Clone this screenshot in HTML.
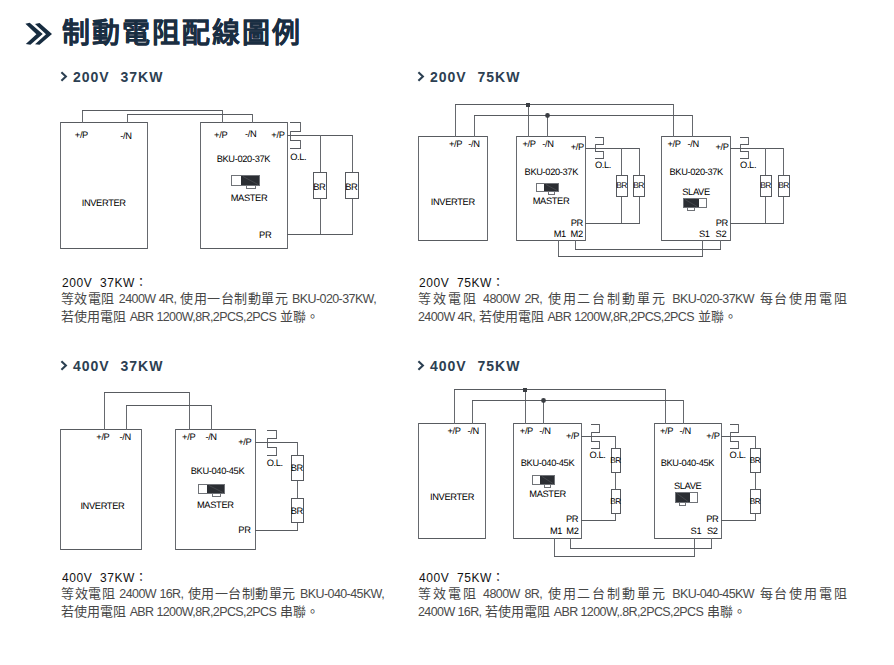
<!DOCTYPE html>
<html lang="zh-TW"><head><meta charset="utf-8"><title>制動電阻配線圖例</title>
<style>
html,body{margin:0;padding:0;background:#fff;}
body{width:894px;height:665px;position:relative;overflow:hidden;font-family:"Liberation Sans",sans-serif;}
.dg{position:absolute;left:0;top:0;}
.lbl text{font-family:"Liberation Sans",sans-serif;fill:#000;letter-spacing:-0.35px;text-rendering:geometricPrecision;}
.h1{position:absolute;left:25px;top:14px;height:40px;}
.h1 svg{position:absolute;left:0;top:9px;}
.h1 span{position:absolute;left:37px;top:0;font-size:28px;letter-spacing:2px;line-height:40px;font-weight:bold;color:#1a2e42;-webkit-text-stroke:0.1px #1a2e42;white-space:nowrap;}
.sub{position:absolute;font-size:14px;font-weight:bold;color:#2c4052;letter-spacing:1px;word-spacing:0.5px;white-space:pre;line-height:16px;}
.sub svg{position:absolute;left:0;top:2px;}
.sub span{position:absolute;left:13px;top:0;}
.p{position:absolute;font-size:13px;line-height:17px;color:#474747;}
.p b{display:block;font-size:12px;color:#111;font-weight:normal;letter-spacing:0.55px;position:relative;top:1px;left:1px;}
.p .l{font-size:12.5px;letter-spacing:-0.6px;color:#4a4a4a;}
.p div{white-space:nowrap;position:relative;top:-1px;}
.p .j{text-align:justify;text-align-last:justify;}
</style></head><body>
<div class="h1"><svg width="34" height="32" viewBox="0 0 34 32" style="left:-3px;top:4px"><path d="M3.4 5.8L7.7 4.8L20.7 16.1L8.4 26.7L3.8 26L14.4 16.3Z M13 6L17.5 5L30 16.1L17.5 26.7L13 26.2L24 16.3Z" fill="#172c40"/></svg><span>制動電阻配線圖例</span></div>
<div class="sub" style="left:60px;top:69px"><svg width="8" height="11" viewBox="0 0 8 11"><path d="M1.4 1.2L5.9 5.5L1.4 9.8" fill="none" stroke="#2c4052" stroke-width="2.1"/></svg><span>200V  37KW</span></div>
<div class="sub" style="left:417px;top:69px"><svg width="8" height="11" viewBox="0 0 8 11"><path d="M1.4 1.2L5.9 5.5L1.4 9.8" fill="none" stroke="#2c4052" stroke-width="2.1"/></svg><span>200V  75KW</span></div>
<div class="sub" style="left:60px;top:358px"><svg width="8" height="11" viewBox="0 0 8 11"><path d="M1.4 1.2L5.9 5.5L1.4 9.8" fill="none" stroke="#2c4052" stroke-width="2.1"/></svg><span>400V  37KW</span></div>
<div class="sub" style="left:417px;top:358px"><svg width="8" height="11" viewBox="0 0 8 11"><path d="M1.4 1.2L5.9 5.5L1.4 9.8" fill="none" stroke="#2c4052" stroke-width="2.1"/></svg><span>400V  75KW</span></div>
<div class="p" style="left:61px;top:274px;width:315px"><b>200V&nbsp;&nbsp;37KW：</b><div class="j">等效電阻 <span class="l">2400W 4R,</span> 使用一台制動單元 <span class="l">BKU-020-37KW,</span></div><div>若使用電阻 <span class="l">ABR 1200W,8R,2PCS,2PCS</span> 並聯。</div></div><div class="p" style="left:418px;top:274px;width:429px"><b>200V&nbsp;&nbsp;75KW：</b><div class="j">等效電阻 <span class="l">4800W 2R,</span> 使用二台制動單元 <span class="l">BKU-020-37KW</span> 每台使用電阻</div><div><span class="l">2400W 4R,</span> 若使用電阻 <span class="l">ABR 1200W,8R,2PCS,2PCS</span> 並聯。</div></div><div class="p" style="left:61px;top:569px;width:323px"><b>400V&nbsp;&nbsp;37KW：</b><div class="j">等效電阻 <span class="l">2400W 16R,</span> 使用一台制動單元 <span class="l">BKU-040-45KW,</span></div><div>若使用電阻 <span class="l">ABR 1200W,8R,2PCS,2PCS</span> 串聯。</div></div><div class="p" style="left:418px;top:569px;width:429px"><b>400V&nbsp;&nbsp;75KW：</b><div class="j">等效電阻 <span class="l">4800W 8R,</span> 使用二台制動單元 <span class="l">BKU-040-45KW</span> 每台使用電阻</div><div><span class="l">2400W 16R,</span> 若使用電阻 <span class="l">ABR 1200W,.8R,2PCS,2PCS</span> 串聯。</div></div>
<svg class="dg" width="894" height="665" viewBox="0 0 894 665" shape-rendering="crispEdges"><rect x="60" y="122" width="88" height="1" fill="#585b60"/><rect x="60" y="248" width="88" height="1" fill="#585b60"/><rect x="60" y="122" width="1" height="127" fill="#66696e"/><rect x="147" y="122" width="1" height="127" fill="#66696e"/><rect x="200" y="122" width="88" height="1" fill="#585b60"/><rect x="200" y="248" width="88" height="1" fill="#585b60"/><rect x="200" y="122" width="1" height="127" fill="#66696e"/><rect x="287" y="122" width="1" height="127" fill="#66696e"/><rect x="82" y="110" width="1" height="13" fill="#66696e"/><rect x="82" y="110" width="141" height="1" fill="#585b60"/><rect x="222" y="110" width="1" height="13" fill="#66696e"/><rect x="127" y="114" width="1" height="9" fill="#66696e"/><rect x="127" y="114" width="126" height="1" fill="#585b60"/><rect x="252" y="114" width="1" height="9" fill="#66696e"/><rect x="290" y="122" width="11" height="1" fill="#585b60"/><rect x="300" y="122" width="1" height="10" fill="#66696e"/><rect x="290" y="131" width="11" height="1" fill="#585b60"/><rect x="290" y="131" width="1" height="10" fill="#66696e"/><rect x="290" y="140" width="11" height="1" fill="#585b60"/><rect x="300" y="140" width="1" height="9" fill="#66696e"/><rect x="290" y="148" width="11" height="1" fill="#585b60"/><rect x="287" y="135" width="66" height="1" fill="#585b60"/><rect x="320" y="135" width="1" height="100" fill="#66696e"/><rect x="352" y="135" width="1" height="100" fill="#66696e"/><rect x="287" y="234" width="66" height="1" fill="#585b60"/><rect x="313" y="172" width="13" height="26" fill="#fff"/><rect x="313" y="172" width="14" height="1" fill="#56595e"/><rect x="313" y="198" width="14" height="1" fill="#56595e"/><rect x="313" y="172" width="1" height="27" fill="#56595e"/><rect x="326" y="172" width="1" height="27" fill="#56595e"/><rect x="345" y="172" width="13" height="26" fill="#fff"/><rect x="345" y="172" width="14" height="1" fill="#56595e"/><rect x="345" y="198" width="14" height="1" fill="#56595e"/><rect x="345" y="172" width="1" height="27" fill="#56595e"/><rect x="358" y="172" width="1" height="27" fill="#56595e"/><rect x="231" y="175" width="28" height="10" fill="#fff"/><rect x="241" y="175" width="19" height="11" fill="#2b2e33"/><rect x="231" y="175" width="29" height="1" fill="#707378"/><rect x="231" y="185" width="29" height="1" fill="#707378"/><rect x="231" y="175" width="1" height="11" fill="#707378"/><rect x="259" y="175" width="1" height="11" fill="#707378"/><rect x="246" y="185" width="10" height="1" fill="#707378"/><rect x="246" y="188" width="10" height="1" fill="#707378"/><rect x="246" y="185" width="1" height="4" fill="#707378"/><rect x="255" y="185" width="1" height="4" fill="#707378"/><line x1="243" y1="176.5" x2="258" y2="184.5" stroke="#4a4d52" stroke-width="0.8" shape-rendering="geometricPrecision"/><rect x="418" y="136" width="70" height="1" fill="#585b60"/><rect x="418" y="240" width="70" height="1" fill="#585b60"/><rect x="418" y="136" width="1" height="105" fill="#66696e"/><rect x="487" y="136" width="1" height="105" fill="#66696e"/><rect x="516" y="136" width="70" height="1" fill="#585b60"/><rect x="516" y="240" width="70" height="1" fill="#585b60"/><rect x="516" y="136" width="1" height="105" fill="#66696e"/><rect x="585" y="136" width="1" height="105" fill="#66696e"/><rect x="661" y="136" width="70" height="1" fill="#585b60"/><rect x="661" y="240" width="70" height="1" fill="#585b60"/><rect x="661" y="136" width="1" height="105" fill="#66696e"/><rect x="730" y="136" width="1" height="105" fill="#66696e"/><rect x="455" y="104" width="1" height="33" fill="#66696e"/><rect x="455" y="104" width="219" height="1" fill="#585b60"/><rect x="673" y="104" width="1" height="33" fill="#66696e"/><rect x="528" y="104" width="1" height="33" fill="#66696e"/><rect x="474" y="115" width="1" height="22" fill="#66696e"/><rect x="474" y="115" width="219" height="1" fill="#585b60"/><rect x="692" y="115" width="1" height="22" fill="#66696e"/><rect x="547" y="115" width="1" height="22" fill="#66696e"/><rect x="526" y="103" width="4" height="4" fill="#3a3d42"/><circle cx="547.5" cy="115.5" r="2.4" fill="#3a3d42" shape-rendering="geometricPrecision"/><rect x="595" y="137" width="9" height="1" fill="#585b60"/><rect x="603" y="137" width="1" height="8" fill="#66696e"/><rect x="595" y="144" width="9" height="1" fill="#585b60"/><rect x="595" y="144" width="1" height="8" fill="#66696e"/><rect x="595" y="151" width="9" height="1" fill="#585b60"/><rect x="603" y="151" width="1" height="8" fill="#66696e"/><rect x="595" y="158" width="9" height="1" fill="#585b60"/><rect x="585" y="148" width="55" height="1" fill="#585b60"/><rect x="621" y="148" width="1" height="76" fill="#66696e"/><rect x="639" y="148" width="1" height="76" fill="#66696e"/><rect x="585" y="223" width="55" height="1" fill="#585b60"/><rect x="616" y="175" width="11" height="21" fill="#fff"/><rect x="616" y="175" width="12" height="1" fill="#56595e"/><rect x="616" y="196" width="12" height="1" fill="#56595e"/><rect x="616" y="175" width="1" height="22" fill="#56595e"/><rect x="627" y="175" width="1" height="22" fill="#56595e"/><rect x="633" y="175" width="11" height="21" fill="#fff"/><rect x="633" y="175" width="12" height="1" fill="#56595e"/><rect x="633" y="196" width="12" height="1" fill="#56595e"/><rect x="633" y="175" width="1" height="22" fill="#56595e"/><rect x="644" y="175" width="1" height="22" fill="#56595e"/><rect x="740" y="137" width="9" height="1" fill="#585b60"/><rect x="748" y="137" width="1" height="8" fill="#66696e"/><rect x="740" y="144" width="9" height="1" fill="#585b60"/><rect x="740" y="144" width="1" height="8" fill="#66696e"/><rect x="740" y="151" width="9" height="1" fill="#585b60"/><rect x="748" y="151" width="1" height="8" fill="#66696e"/><rect x="740" y="158" width="9" height="1" fill="#585b60"/><rect x="730" y="148" width="54" height="1" fill="#585b60"/><rect x="765" y="148" width="1" height="76" fill="#66696e"/><rect x="783" y="148" width="1" height="76" fill="#66696e"/><rect x="730" y="223" width="54" height="1" fill="#585b60"/><rect x="760" y="175" width="11" height="21" fill="#fff"/><rect x="760" y="175" width="12" height="1" fill="#56595e"/><rect x="760" y="196" width="12" height="1" fill="#56595e"/><rect x="760" y="175" width="1" height="22" fill="#56595e"/><rect x="771" y="175" width="1" height="22" fill="#56595e"/><rect x="778" y="175" width="11" height="21" fill="#fff"/><rect x="778" y="175" width="12" height="1" fill="#56595e"/><rect x="778" y="196" width="12" height="1" fill="#56595e"/><rect x="778" y="175" width="1" height="22" fill="#56595e"/><rect x="789" y="175" width="1" height="22" fill="#56595e"/><rect x="558" y="240" width="1" height="17" fill="#66696e"/><rect x="702" y="240" width="1" height="17" fill="#66696e"/><rect x="558" y="256" width="145" height="1" fill="#585b60"/><rect x="575" y="240" width="1" height="10" fill="#66696e"/><rect x="720" y="240" width="1" height="10" fill="#66696e"/><rect x="575" y="249" width="146" height="1" fill="#585b60"/><rect x="536" y="183" width="22" height="8" fill="#fff"/><rect x="544" y="183" width="15" height="9" fill="#2b2e33"/><rect x="536" y="183" width="23" height="1" fill="#707378"/><rect x="536" y="191" width="23" height="1" fill="#707378"/><rect x="536" y="183" width="1" height="9" fill="#707378"/><rect x="558" y="183" width="1" height="9" fill="#707378"/><rect x="548" y="191" width="7" height="1" fill="#707378"/><rect x="548" y="194" width="7" height="1" fill="#707378"/><rect x="548" y="191" width="1" height="4" fill="#707378"/><rect x="554" y="191" width="1" height="4" fill="#707378"/><line x1="546" y1="184.5" x2="557" y2="190.5" stroke="#4a4d52" stroke-width="0.8" shape-rendering="geometricPrecision"/><rect x="683" y="198" width="23" height="9" fill="#fff"/><rect x="683" y="198" width="16" height="10" fill="#2b2e33"/><rect x="683" y="198" width="24" height="1" fill="#707378"/><rect x="683" y="207" width="24" height="1" fill="#707378"/><rect x="683" y="198" width="1" height="10" fill="#707378"/><rect x="706" y="198" width="1" height="10" fill="#707378"/><rect x="687" y="207" width="8" height="1" fill="#707378"/><rect x="687" y="210" width="8" height="1" fill="#707378"/><rect x="687" y="207" width="1" height="4" fill="#707378"/><rect x="694" y="207" width="1" height="4" fill="#707378"/><line x1="685" y1="199.5" x2="697" y2="206.5" stroke="#4a4d52" stroke-width="0.8" shape-rendering="geometricPrecision"/><rect x="60" y="429" width="82" height="1" fill="#585b60"/><rect x="60" y="549" width="82" height="1" fill="#585b60"/><rect x="60" y="429" width="1" height="121" fill="#66696e"/><rect x="141" y="429" width="1" height="121" fill="#66696e"/><rect x="175" y="429" width="81" height="1" fill="#585b60"/><rect x="175" y="549" width="81" height="1" fill="#585b60"/><rect x="175" y="429" width="1" height="121" fill="#66696e"/><rect x="255" y="429" width="1" height="121" fill="#66696e"/><rect x="104" y="392" width="1" height="38" fill="#66696e"/><rect x="104" y="392" width="86" height="1" fill="#585b60"/><rect x="189" y="392" width="1" height="38" fill="#66696e"/><rect x="126" y="405" width="1" height="25" fill="#66696e"/><rect x="126" y="405" width="86" height="1" fill="#585b60"/><rect x="211" y="405" width="1" height="25" fill="#66696e"/><rect x="267" y="430" width="10" height="1" fill="#585b60"/><rect x="276" y="430" width="1" height="9" fill="#66696e"/><rect x="267" y="438" width="10" height="1" fill="#585b60"/><rect x="267" y="438" width="1" height="10" fill="#66696e"/><rect x="267" y="447" width="10" height="1" fill="#585b60"/><rect x="276" y="447" width="1" height="9" fill="#66696e"/><rect x="267" y="455" width="10" height="1" fill="#585b60"/><rect x="255" y="442" width="43" height="1" fill="#585b60"/><rect x="297" y="442" width="1" height="89" fill="#66696e"/><rect x="255" y="530" width="43" height="1" fill="#585b60"/><rect x="291" y="455" width="12" height="25" fill="#fff"/><rect x="291" y="455" width="13" height="1" fill="#56595e"/><rect x="291" y="480" width="13" height="1" fill="#56595e"/><rect x="291" y="455" width="1" height="26" fill="#56595e"/><rect x="303" y="455" width="1" height="26" fill="#56595e"/><rect x="291" y="498" width="12" height="24" fill="#fff"/><rect x="291" y="498" width="13" height="1" fill="#56595e"/><rect x="291" y="522" width="13" height="1" fill="#56595e"/><rect x="291" y="498" width="1" height="25" fill="#56595e"/><rect x="303" y="498" width="1" height="25" fill="#56595e"/><rect x="198" y="484" width="26" height="9" fill="#fff"/><rect x="207" y="484" width="18" height="10" fill="#2b2e33"/><rect x="198" y="484" width="27" height="1" fill="#707378"/><rect x="198" y="493" width="27" height="1" fill="#707378"/><rect x="198" y="484" width="1" height="10" fill="#707378"/><rect x="224" y="484" width="1" height="10" fill="#707378"/><rect x="212" y="493" width="9" height="1" fill="#707378"/><rect x="212" y="496" width="9" height="1" fill="#707378"/><rect x="212" y="493" width="1" height="4" fill="#707378"/><rect x="220" y="493" width="1" height="4" fill="#707378"/><line x1="209" y1="485.5" x2="223" y2="492.5" stroke="#4a4d52" stroke-width="0.8" shape-rendering="geometricPrecision"/><rect x="418" y="423" width="68" height="1" fill="#585b60"/><rect x="418" y="538" width="68" height="1" fill="#585b60"/><rect x="418" y="423" width="1" height="116" fill="#66696e"/><rect x="485" y="423" width="1" height="116" fill="#66696e"/><rect x="513" y="423" width="69" height="1" fill="#585b60"/><rect x="513" y="538" width="69" height="1" fill="#585b60"/><rect x="513" y="423" width="1" height="116" fill="#66696e"/><rect x="581" y="423" width="1" height="116" fill="#66696e"/><rect x="654" y="423" width="68" height="1" fill="#585b60"/><rect x="654" y="538" width="68" height="1" fill="#585b60"/><rect x="654" y="423" width="1" height="116" fill="#66696e"/><rect x="721" y="423" width="1" height="116" fill="#66696e"/><rect x="454" y="389" width="1" height="35" fill="#66696e"/><rect x="454" y="389" width="212" height="1" fill="#585b60"/><rect x="665" y="389" width="1" height="35" fill="#66696e"/><rect x="525" y="389" width="1" height="35" fill="#66696e"/><rect x="472" y="400" width="1" height="24" fill="#66696e"/><rect x="472" y="400" width="212" height="1" fill="#585b60"/><rect x="683" y="400" width="1" height="24" fill="#66696e"/><rect x="543" y="400" width="1" height="24" fill="#66696e"/><rect x="523" y="388" width="4" height="4" fill="#3a3d42"/><circle cx="543.5" cy="400.5" r="2.4" fill="#3a3d42" shape-rendering="geometricPrecision"/><rect x="591" y="424" width="9" height="1" fill="#585b60"/><rect x="599" y="424" width="1" height="9" fill="#66696e"/><rect x="591" y="432" width="9" height="1" fill="#585b60"/><rect x="591" y="432" width="1" height="10" fill="#66696e"/><rect x="591" y="441" width="9" height="1" fill="#585b60"/><rect x="599" y="441" width="1" height="8" fill="#66696e"/><rect x="591" y="448" width="9" height="1" fill="#585b60"/><rect x="581" y="436" width="35" height="1" fill="#585b60"/><rect x="615" y="436" width="1" height="85" fill="#66696e"/><rect x="581" y="520" width="35" height="1" fill="#585b60"/><rect x="611" y="448" width="9" height="24" fill="#fff"/><rect x="611" y="448" width="10" height="1" fill="#56595e"/><rect x="611" y="472" width="10" height="1" fill="#56595e"/><rect x="611" y="448" width="1" height="25" fill="#56595e"/><rect x="620" y="448" width="1" height="25" fill="#56595e"/><rect x="611" y="489" width="9" height="24" fill="#fff"/><rect x="611" y="489" width="10" height="1" fill="#56595e"/><rect x="611" y="513" width="10" height="1" fill="#56595e"/><rect x="611" y="489" width="1" height="25" fill="#56595e"/><rect x="620" y="489" width="1" height="25" fill="#56595e"/><rect x="730" y="424" width="9" height="1" fill="#585b60"/><rect x="738" y="424" width="1" height="9" fill="#66696e"/><rect x="730" y="432" width="9" height="1" fill="#585b60"/><rect x="730" y="432" width="1" height="10" fill="#66696e"/><rect x="730" y="441" width="9" height="1" fill="#585b60"/><rect x="738" y="441" width="1" height="8" fill="#66696e"/><rect x="730" y="448" width="9" height="1" fill="#585b60"/><rect x="721" y="436" width="35" height="1" fill="#585b60"/><rect x="755" y="436" width="1" height="85" fill="#66696e"/><rect x="721" y="520" width="35" height="1" fill="#585b60"/><rect x="750" y="448" width="10" height="24" fill="#fff"/><rect x="750" y="448" width="11" height="1" fill="#56595e"/><rect x="750" y="472" width="11" height="1" fill="#56595e"/><rect x="750" y="448" width="1" height="25" fill="#56595e"/><rect x="760" y="448" width="1" height="25" fill="#56595e"/><rect x="750" y="489" width="10" height="24" fill="#fff"/><rect x="750" y="489" width="11" height="1" fill="#56595e"/><rect x="750" y="513" width="11" height="1" fill="#56595e"/><rect x="750" y="489" width="1" height="25" fill="#56595e"/><rect x="760" y="489" width="1" height="25" fill="#56595e"/><rect x="554" y="538" width="1" height="19" fill="#66696e"/><rect x="694" y="538" width="1" height="19" fill="#66696e"/><rect x="554" y="556" width="141" height="1" fill="#585b60"/><rect x="570" y="538" width="1" height="11" fill="#66696e"/><rect x="711" y="538" width="1" height="11" fill="#66696e"/><rect x="570" y="548" width="142" height="1" fill="#585b60"/><rect x="532" y="475" width="22" height="9" fill="#fff"/><rect x="540" y="475" width="15" height="10" fill="#2b2e33"/><rect x="532" y="475" width="23" height="1" fill="#707378"/><rect x="532" y="484" width="23" height="1" fill="#707378"/><rect x="532" y="475" width="1" height="10" fill="#707378"/><rect x="554" y="475" width="1" height="10" fill="#707378"/><rect x="544" y="484" width="7" height="1" fill="#707378"/><rect x="544" y="487" width="7" height="1" fill="#707378"/><rect x="544" y="484" width="1" height="4" fill="#707378"/><rect x="550" y="484" width="1" height="4" fill="#707378"/><line x1="542" y1="476.5" x2="553" y2="483.5" stroke="#4a4d52" stroke-width="0.8" shape-rendering="geometricPrecision"/><rect x="675" y="492" width="22" height="10" fill="#fff"/><rect x="675" y="492" width="15" height="11" fill="#2b2e33"/><rect x="675" y="492" width="23" height="1" fill="#707378"/><rect x="675" y="502" width="23" height="1" fill="#707378"/><rect x="675" y="492" width="1" height="11" fill="#707378"/><rect x="697" y="492" width="1" height="11" fill="#707378"/><rect x="679" y="502" width="7" height="1" fill="#707378"/><rect x="679" y="505" width="7" height="1" fill="#707378"/><rect x="679" y="502" width="1" height="4" fill="#707378"/><rect x="685" y="502" width="1" height="4" fill="#707378"/><line x1="677" y1="493.5" x2="688" y2="501.5" stroke="#4a4d52" stroke-width="0.8" shape-rendering="geometricPrecision"/><g class="lbl"><text x="319.3" y="189.6" font-size="9.3" text-anchor="middle">BR</text><text x="351.3" y="189.6" font-size="9.3" text-anchor="middle">BR</text><text x="74.8" y="138.3" font-size="9.3" text-anchor="start">+/P</text><text x="120.3" y="138.8" font-size="9.3" text-anchor="start">-/N</text><text x="103.7" y="205.9" font-size="9.3" text-anchor="middle">INVERTER</text><text x="214.1" y="137.8" font-size="9.3" text-anchor="start">+/P</text><text x="245.1" y="137.3" font-size="9.3" text-anchor="start">-/N</text><text x="284.5" y="138.3" font-size="9.3" text-anchor="end">+/P</text><text x="243.4" y="161.6" font-size="9.3" text-anchor="middle">BKU-020-37K</text><text x="249" y="200.8" font-size="9.3" text-anchor="middle">MASTER</text><text x="259.1" y="237.8" font-size="9.3" text-anchor="start">PR</text><text x="290.2" y="159.8" font-size="9.3" text-anchor="start">O.L.</text><text x="621.5999999999999" y="188.1" font-size="8.4" text-anchor="middle">BR</text><text x="638.5999999999999" y="188.1" font-size="8.4" text-anchor="middle">BR</text><text x="765.5999999999999" y="188.1" font-size="8.4" text-anchor="middle">BR</text><text x="783.5999999999999" y="188.1" font-size="8.4" text-anchor="middle">BR</text><text x="448.9" y="146.5" font-size="9.3" text-anchor="start">+/P</text><text x="468.3" y="146.5" font-size="9.3" text-anchor="start">-/N</text><text x="452.8" y="205.1" font-size="9.3" text-anchor="middle">INVERTER</text><text x="522.5" y="146.5" font-size="9.3" text-anchor="start">+/P</text><text x="542.2" y="146.5" font-size="9.3" text-anchor="start">-/N</text><text x="583.9" y="150.1" font-size="9.3" text-anchor="end">+/P</text><text x="551.3" y="175.1" font-size="9.3" text-anchor="middle">BKU-020-37K</text><text x="551" y="204.0" font-size="9.3" text-anchor="middle">MASTER</text><text x="582.9" y="225.8" font-size="9.3" text-anchor="end">PR</text><text x="553.7" y="237.0" font-size="9.3" text-anchor="start">M1</text><text x="570.6" y="237.0" font-size="9.3" text-anchor="start">M2</text><text x="594.9" y="168.0" font-size="9.3" text-anchor="start">O.L.</text><text x="667.5" y="146.6" font-size="9.3" text-anchor="start">+/P</text><text x="687.5" y="146.6" font-size="9.3" text-anchor="start">-/N</text><text x="728.7" y="149.9" font-size="9.3" text-anchor="end">+/P</text><text x="696.2" y="175.1" font-size="9.3" text-anchor="middle">BKU-020-37K</text><text x="696" y="194.9" font-size="9.3" text-anchor="middle">SLAVE</text><text x="727.9" y="225.8" font-size="9.3" text-anchor="end">PR</text><text x="698.9" y="236.6" font-size="9.3" text-anchor="start">S1</text><text x="715.6" y="236.6" font-size="9.3" text-anchor="start">S2</text><text x="740" y="168.4" font-size="9.3" text-anchor="start">O.L.</text><text x="296.8" y="471.2" font-size="9.3" text-anchor="middle">BR</text><text x="296.8" y="513.7" font-size="9.3" text-anchor="middle">BR</text><text x="96.3" y="440.0" font-size="9.3" text-anchor="start">+/P</text><text x="119.6" y="440.0" font-size="9.3" text-anchor="start">-/N</text><text x="102.4" y="509.0" font-size="9.3" text-anchor="middle">INVERTER</text><text x="182.1" y="440.0" font-size="9.3" text-anchor="start">+/P</text><text x="205.4" y="440.0" font-size="9.3" text-anchor="start">-/N</text><text x="251.3" y="445.0" font-size="9.3" text-anchor="end">+/P</text><text x="217.5" y="474.0" font-size="9.3" text-anchor="middle">BKU-040-45K</text><text x="215.3" y="507.8" font-size="9.3" text-anchor="middle">MASTER</text><text x="250.5" y="533.1" font-size="9.3" text-anchor="end">PR</text><text x="266.7" y="466.2" font-size="9.3" text-anchor="start">O.L.</text><text x="615.5999999999999" y="463.1" font-size="8.2" text-anchor="middle">BR</text><text x="615.5999999999999" y="504.1" font-size="8.2" text-anchor="middle">BR</text><text x="755.0999999999999" y="463.1" font-size="8.2" text-anchor="middle">BR</text><text x="755.0999999999999" y="504.1" font-size="8.2" text-anchor="middle">BR</text><text x="447.5" y="434.2" font-size="9.3" text-anchor="start">+/P</text><text x="467.6" y="434.2" font-size="9.3" text-anchor="start">-/N</text><text x="452" y="499.5" font-size="9.3" text-anchor="middle">INVERTER</text><text x="519.8" y="434.2" font-size="9.3" text-anchor="start">+/P</text><text x="539.3" y="434.2" font-size="9.3" text-anchor="start">-/N</text><text x="579.1" y="438.9" font-size="9.3" text-anchor="end">+/P</text><text x="547.5" y="465.9" font-size="9.3" text-anchor="middle">BKU-040-45K</text><text x="547.6" y="497.3" font-size="9.3" text-anchor="middle">MASTER</text><text x="578.2" y="522.3" font-size="9.3" text-anchor="end">PR</text><text x="549.9" y="534.0" font-size="9.3" text-anchor="start">M1</text><text x="566.3" y="534.0" font-size="9.3" text-anchor="start">M2</text><text x="589.4" y="457.8" font-size="9.3" text-anchor="start">O.L.</text><text x="660" y="434.2" font-size="9.3" text-anchor="start">+/P</text><text x="679.5" y="434.2" font-size="9.3" text-anchor="start">-/N</text><text x="719.5" y="438.9" font-size="9.3" text-anchor="end">+/P</text><text x="687.4" y="465.9" font-size="9.3" text-anchor="middle">BKU-040-45K</text><text x="687.7" y="489.0" font-size="9.3" text-anchor="middle">SLAVE</text><text x="718.4" y="522.3" font-size="9.3" text-anchor="end">PR</text><text x="690.6" y="534.0" font-size="9.3" text-anchor="start">S1</text><text x="707" y="534.0" font-size="9.3" text-anchor="start">S2</text><text x="729.6" y="457.8" font-size="9.3" text-anchor="start">O.L.</text></g></svg>
</body></html>
